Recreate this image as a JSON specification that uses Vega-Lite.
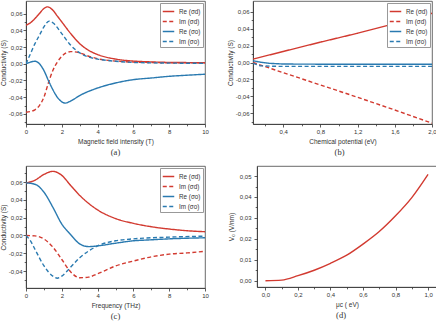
{
  "$schema": "https://vega.github.io/schema/vega-lite/v6.json",
  "padding": 0,
  "autosize": {"type": "pad"},
  "background": "white",
  "config": {
    "font": "Liberation Sans",
    "view": {"stroke": "#444", "strokeWidth": 0.8},
    "axis": {
      "grid": false,
      "domainColor": "#333",
      "domainWidth": 0.8,
      "tickColor": "#333",
      "tickWidth": 0.8,
      "labelFontSize": 6,
      "labelColor": "#333",
      "labelPadding": 1,
      "labelFlush": false,
      "labelOverlap": false,
      "titleFontSize": 6.5,
      "titleFontWeight": "normal",
      "titleColor": "#333",
      "titlePadding": 4
    },
    "axisY": {"titleX": -19.5},
    "legend": {
      "orient": "top-right",
      "offset": 2,
      "strokeColor": "#999",
      "fillColor": "white",
      "padding": 2,
      "labelFontSize": 6.3,
      "labelColor": "#333",
      "symbolType": "stroke",
      "symbolSize": 132,
      "symbolStrokeWidth": 1.3,
      "rowPadding": 0,
      "labelOffset": 4,
      "title": null
    },
    "title": {"font": "Liberation Serif", "fontSize": 8.5, "fontWeight": "normal", "color": "#333", "orient": "bottom", "offset": 3, "frame": "group"},
    "line": {"strokeWidth": 1.4, "interpolate": "monotone"}
  },
  "datasets": {
    "a": [
      {"x": 0, "y": 0.046, "s": "Re (σd)"}, {"x": 0.25, "y": 0.049, "s": "Re (σd)"}, {"x": 0.5, "y": 0.054, "s": "Re (σd)"}, {"x": 0.75, "y": 0.060, "s": "Re (σd)"}, {"x": 1, "y": 0.066, "s": "Re (σd)"}, {"x": 1.2, "y": 0.068, "s": "Re (σd)"}, {"x": 1.5, "y": 0.064, "s": "Re (σd)"}, {"x": 1.75, "y": 0.057, "s": "Re (σd)"}, {"x": 2, "y": 0.050, "s": "Re (σd)"}, {"x": 2.5, "y": 0.036, "s": "Re (σd)"}, {"x": 3, "y": 0.024, "s": "Re (σd)"}, {"x": 3.5, "y": 0.016, "s": "Re (σd)"}, {"x": 4, "y": 0.011, "s": "Re (σd)"}, {"x": 5, "y": 0.0056, "s": "Re (σd)"}, {"x": 6, "y": 0.0032, "s": "Re (σd)"}, {"x": 7, "y": 0.0022, "s": "Re (σd)"}, {"x": 8, "y": 0.0016, "s": "Re (σd)"}, {"x": 9, "y": 0.0014, "s": "Re (σd)"}, {"x": 10, "y": 0.0012, "s": "Re (σd)"},
      {"x": 0, "y": -0.058, "s": "Im (σd)"}, {"x": 0.5, "y": -0.055, "s": "Im (σd)"}, {"x": 0.75, "y": -0.05, "s": "Im (σd)"}, {"x": 1, "y": -0.04, "s": "Im (σd)"}, {"x": 1.25, "y": -0.023, "s": "Im (σd)"}, {"x": 1.5, "y": -0.008, "s": "Im (σd)"}, {"x": 1.75, "y": 0.002, "s": "Im (σd)"}, {"x": 2, "y": 0.009, "s": "Im (σd)"}, {"x": 2.25, "y": 0.013, "s": "Im (σd)"}, {"x": 2.5, "y": 0.0145, "s": "Im (σd)"}, {"x": 3, "y": 0.013, "s": "Im (σd)"}, {"x": 3.5, "y": 0.009, "s": "Im (σd)"}, {"x": 4, "y": 0.006, "s": "Im (σd)"}, {"x": 5, "y": 0.0032, "s": "Im (σd)"}, {"x": 6, "y": 0.002, "s": "Im (σd)"}, {"x": 8, "y": 0.0012, "s": "Im (σd)"}, {"x": 10, "y": 0.001, "s": "Im (σd)"},
      {"x": 0, "y": 0.0, "s": "Re (σo)"}, {"x": 0.25, "y": 0.002, "s": "Re (σo)"}, {"x": 0.5, "y": 0.003, "s": "Re (σo)"}, {"x": 0.75, "y": 0.0, "s": "Re (σo)"}, {"x": 1, "y": -0.008, "s": "Re (σo)"}, {"x": 1.25, "y": -0.02, "s": "Re (σo)"}, {"x": 1.5, "y": -0.031, "s": "Re (σo)"}, {"x": 1.75, "y": -0.04, "s": "Re (σo)"}, {"x": 2, "y": -0.0455, "s": "Re (σo)"}, {"x": 2.2, "y": -0.047, "s": "Re (σo)"}, {"x": 2.5, "y": -0.0445, "s": "Re (σo)"}, {"x": 3, "y": -0.038, "s": "Re (σo)"}, {"x": 4, "y": -0.029, "s": "Re (σo)"}, {"x": 5, "y": -0.023, "s": "Re (σo)"}, {"x": 6, "y": -0.019, "s": "Re (σo)"}, {"x": 7, "y": -0.017, "s": "Re (σo)"}, {"x": 8, "y": -0.015, "s": "Re (σo)"}, {"x": 9, "y": -0.0137, "s": "Re (σo)"}, {"x": 10, "y": -0.0125, "s": "Re (σo)"},
      {"x": 0, "y": 0.0, "s": "Im (σo)"}, {"x": 0.25, "y": 0.012, "s": "Im (σo)"}, {"x": 0.5, "y": 0.024, "s": "Im (σo)"}, {"x": 0.75, "y": 0.034, "s": "Im (σo)"}, {"x": 1, "y": 0.044, "s": "Im (σo)"}, {"x": 1.3, "y": 0.051, "s": "Im (σo)"}, {"x": 1.5, "y": 0.049, "s": "Im (σo)"}, {"x": 2, "y": 0.036, "s": "Im (σo)"}, {"x": 2.5, "y": 0.022, "s": "Im (σo)"}, {"x": 3, "y": 0.013, "s": "Im (σo)"}, {"x": 3.5, "y": 0.008, "s": "Im (σo)"}, {"x": 4, "y": 0.0056, "s": "Im (σo)"}, {"x": 5, "y": 0.003, "s": "Im (σo)"}, {"x": 6, "y": 0.0016, "s": "Im (σo)"}, {"x": 8, "y": 0.0008, "s": "Im (σo)"}, {"x": 10, "y": 0.0005, "s": "Im (σo)"}
    ],
    "b": [
      {"x": 0.075, "y": 0.004, "s": "Re (σd)"}, {"x": 0.4, "y": 0.013, "s": "Re (σd)"}, {"x": 0.8, "y": 0.024, "s": "Re (σd)"}, {"x": 1.2, "y": 0.0345, "s": "Re (σd)"}, {"x": 1.6, "y": 0.046, "s": "Re (σd)"}, {"x": 2.0, "y": 0.058, "s": "Re (σd)"},
      {"x": 0.075, "y": 0.0, "s": "Im (σd)"}, {"x": 0.4, "y": -0.012, "s": "Im (σd)"}, {"x": 0.8, "y": -0.0265, "s": "Im (σd)"}, {"x": 1.2, "y": -0.041, "s": "Im (σd)"}, {"x": 1.6, "y": -0.056, "s": "Im (σd)"}, {"x": 2.0, "y": -0.0715, "s": "Im (σd)"},
      {"x": 0.075, "y": 0.002, "s": "Re (σo)"}, {"x": 0.15, "y": 0.0005, "s": "Re (σo)"}, {"x": 0.25, "y": -0.001, "s": "Re (σo)"}, {"x": 0.4, "y": -0.0018, "s": "Re (σo)"}, {"x": 0.8, "y": -0.002, "s": "Re (σo)"}, {"x": 1.2, "y": -0.002, "s": "Re (σo)"}, {"x": 1.6, "y": -0.002, "s": "Re (σo)"}, {"x": 2.0, "y": -0.002, "s": "Re (σo)"},
      {"x": 0.075, "y": -0.001, "s": "Im (σo)"}, {"x": 0.15, "y": -0.0038, "s": "Im (σo)"}, {"x": 0.3, "y": -0.0045, "s": "Im (σo)"}, {"x": 0.8, "y": -0.0046, "s": "Im (σo)"}, {"x": 1.2, "y": -0.0046, "s": "Im (σo)"}, {"x": 1.6, "y": -0.0046, "s": "Im (σo)"}, {"x": 2.0, "y": -0.0046, "s": "Im (σo)"}
    ],
    "c": [
      {"x": 0, "y": 0.059, "s": "Re (σd)"}, {"x": 0.5, "y": 0.062, "s": "Re (σd)"}, {"x": 1, "y": 0.0685, "s": "Re (σd)"}, {"x": 1.5, "y": 0.072, "s": "Re (σd)"}, {"x": 2, "y": 0.0675, "s": "Re (σd)"}, {"x": 2.5, "y": 0.056, "s": "Re (σd)"}, {"x": 3, "y": 0.045, "s": "Re (σd)"}, {"x": 3.5, "y": 0.036, "s": "Re (σd)"}, {"x": 4, "y": 0.0287, "s": "Re (σd)"}, {"x": 5, "y": 0.019, "s": "Re (σd)"}, {"x": 6, "y": 0.0136, "s": "Re (σd)"}, {"x": 7, "y": 0.0098, "s": "Re (σd)"}, {"x": 8, "y": 0.0072, "s": "Re (σd)"}, {"x": 9, "y": 0.0053, "s": "Re (σd)"}, {"x": 10, "y": 0.0042, "s": "Re (σd)"},
      {"x": 0, "y": 0.0, "s": "Im (σd)"}, {"x": 0.5, "y": -0.0005, "s": "Im (σd)"}, {"x": 1, "y": -0.004, "s": "Im (σd)"}, {"x": 1.5, "y": -0.013, "s": "Im (σd)"}, {"x": 2, "y": -0.027, "s": "Im (σd)"}, {"x": 2.5, "y": -0.041, "s": "Im (σd)"}, {"x": 3, "y": -0.0475, "s": "Im (σd)"}, {"x": 3.5, "y": -0.0468, "s": "Im (σd)"}, {"x": 4, "y": -0.043, "s": "Im (σd)"}, {"x": 5, "y": -0.0343, "s": "Im (σd)"}, {"x": 6, "y": -0.0287, "s": "Im (σd)"}, {"x": 7, "y": -0.024, "s": "Im (σd)"}, {"x": 8, "y": -0.021, "s": "Im (σd)"}, {"x": 9, "y": -0.0196, "s": "Im (σd)"}, {"x": 10, "y": -0.0177, "s": "Im (σd)"},
      {"x": 0, "y": 0.059, "s": "Re (σo)"}, {"x": 0.5, "y": 0.0575, "s": "Re (σo)"}, {"x": 1, "y": 0.0487, "s": "Re (σo)"}, {"x": 1.5, "y": 0.0317, "s": "Re (σo)"}, {"x": 2, "y": 0.0128, "s": "Re (σo)"}, {"x": 2.5, "y": 0.0008, "s": "Re (σo)"}, {"x": 3, "y": -0.0095, "s": "Re (σo)"}, {"x": 3.5, "y": -0.0125, "s": "Re (σo)"}, {"x": 4, "y": -0.0117, "s": "Re (σo)"}, {"x": 5, "y": -0.0087, "s": "Re (σo)"}, {"x": 6, "y": -0.006, "s": "Re (σo)"}, {"x": 7, "y": -0.0049, "s": "Re (σo)"}, {"x": 8, "y": -0.0038, "s": "Re (σo)"}, {"x": 9, "y": -0.0031, "s": "Re (σo)"}, {"x": 10, "y": -0.0026, "s": "Re (σo)"},
      {"x": 0, "y": 0.0, "s": "Im (σo)"}, {"x": 0.25, "y": -0.006, "s": "Im (σo)"}, {"x": 0.5, "y": -0.0155, "s": "Im (σo)"}, {"x": 1, "y": -0.034, "s": "Im (σo)"}, {"x": 1.5, "y": -0.0457, "s": "Im (σo)"}, {"x": 1.75, "y": -0.048, "s": "Im (σo)"}, {"x": 2, "y": -0.0457, "s": "Im (σo)"}, {"x": 2.5, "y": -0.0355, "s": "Im (σo)"}, {"x": 3, "y": -0.025, "s": "Im (σo)"}, {"x": 3.5, "y": -0.0174, "s": "Im (σo)"}, {"x": 4, "y": -0.0117, "s": "Im (σo)"}, {"x": 5, "y": -0.006, "s": "Im (σo)"}, {"x": 6, "y": -0.0038, "s": "Im (σo)"}, {"x": 8, "y": -0.0019, "s": "Im (σo)"}, {"x": 10, "y": -0.0008, "s": "Im (σo)"}
    ],
    "d": [
      {"x": 0.0, "y": 0.0}, {"x": 0.1, "y": 0.0003}, {"x": 0.2, "y": 0.0024}, {"x": 0.3, "y": 0.005}, {"x": 0.4, "y": 0.0083}, {"x": 0.5, "y": 0.0122}, {"x": 0.6, "y": 0.0175}, {"x": 0.7, "y": 0.0235}, {"x": 0.8, "y": 0.031}, {"x": 0.9, "y": 0.0397}, {"x": 1.0, "y": 0.0508}
    ]
  },
  "vconcat": [
    {
      "hconcat": [
        {
          "width": 179, "height": 123,
          "title": {"text": "(a)"},
          "data": {"name": "a"},
          "mark": {"type": "line", "clip": true},
          "encoding": {
            "x": {"field": "x", "type": "quantitative", "scale": {"domain": [0, 10], "nice": false}, "axis": {"values": [0, 1, 2, 3, 4, 5, 6, 7, 8, 9, 10], "labelExpr": "datum.value % 2 == 0 ? '' + datum.value : ''", "tickSize": {"condition": {"test": "datum.value % 2 == 0", "value": 3}, "value": 1.8}, "title": "Magnetic field intensity (T)"}},
            "y": {"field": "y", "type": "quantitative", "scale": {"domain": [-0.072, 0.075], "nice": false, "zero": false}, "axis": {"values": [-0.07, -0.06, -0.05, -0.04, -0.03, -0.02, -0.01, 0, 0.01, 0.02, 0.03, 0.04, 0.05, 0.06], "labelExpr": "abs(datum.value * 50 - round(datum.value * 50)) < 0.01 ? replace(replace(format(datum.value, '.2f'), '.', ','), '−', '-') : ''", "tickSize": {"condition": {"test": "abs(datum.value * 50 - round(datum.value * 50)) < 0.01", "value": 3}, "value": 1.8}, "title": "Conductivity (S)"}},
            "color": {"field": "s", "type": "nominal", "scale": {"domain": ["Re (σd)", "Im (σd)", "Re (σo)", "Im (σo)"], "range": ["#d23a30", "#d23a30", "#2a7ab0", "#2a7ab0"]}, "legend": {"orient": "top-right"}},
            "strokeDash": {"field": "s", "type": "nominal", "scale": {"domain": ["Re (σd)", "Im (σd)", "Re (σo)", "Im (σo)"], "range": [[1, 0], [4, 2.5], [1, 0], [4, 2.5]]}, "legend": {"orient": "top-right"}}
          }
        },
        {
          "width": 179, "height": 123,
          "title": {"text": "(b)", "dx": -3},
          "data": {"name": "b"},
          "mark": {"type": "line", "clip": true, "interpolate": "linear"},
          "encoding": {
            "x": {"field": "x", "type": "quantitative", "scale": {"domain": [0.075, 2.0], "nice": false, "zero": false}, "axis": {"values": [0.2, 0.4, 0.6, 0.8, 1.0, 1.2, 1.4, 1.6, 1.8, 2.0], "labelExpr": "abs(datum.value / 0.4 - round(datum.value / 0.4)) < 0.01 ? replace(format(datum.value, '.1f'), '.', ',') : ''", "tickSize": {"condition": {"test": "abs(datum.value / 0.4 - round(datum.value / 0.4)) < 0.01", "value": 3}, "value": 1.8}, "title": "Chemical potential (eV)"}},
            "y": {"field": "y", "type": "quantitative", "scale": {"domain": [-0.0725, 0.0725], "nice": false, "zero": false}, "axis": {"values": [-0.07, -0.06, -0.05, -0.04, -0.03, -0.02, -0.01, 0, 0.01, 0.02, 0.03, 0.04, 0.05, 0.06], "labelExpr": "abs(datum.value * 50 - round(datum.value * 50)) < 0.01 ? replace(replace(format(datum.value, '.2f'), '.', ','), '−', '-') : ''", "tickSize": {"condition": {"test": "abs(datum.value * 50 - round(datum.value * 50)) < 0.01", "value": 3}, "value": 1.8}, "title": "Conductivity (S)"}},
            "color": {"field": "s", "type": "nominal", "scale": {"domain": ["Re (σd)", "Im (σd)", "Re (σo)", "Im (σo)"], "range": ["#d23a30", "#d23a30", "#2a7ab0", "#2a7ab0"]}, "legend": {"orient": "top-right"}},
            "strokeDash": {"field": "s", "type": "nominal", "scale": {"domain": ["Re (σd)", "Im (σd)", "Re (σo)", "Im (σo)"], "range": [[1, 0], [4, 2.5], [1, 0], [4, 2.5]]}, "legend": {"orient": "top-right"}}
          }
        }
      ],
      "spacing": 18,
      "resolve": {"scale": {"color": "independent", "strokeDash": "independent"}, "legend": {"color": "independent", "strokeDash": "independent"}}
    },
    {
      "hconcat": [
        {
          "width": 179, "height": 122,
          "title": {"text": "(c)"},
          "data": {"name": "c"},
          "mark": {"type": "line", "clip": true},
          "encoding": {
            "x": {"field": "x", "type": "quantitative", "scale": {"domain": [0, 10], "nice": false}, "axis": {"values": [0, 1, 2, 3, 4, 5, 6, 7, 8, 9, 10], "labelExpr": "datum.value % 2 == 0 ? '' + datum.value : ''", "tickSize": {"condition": {"test": "datum.value % 2 == 0", "value": 3}, "value": 1.8}, "title": "Frequency (THz)"}},
            "y": {"field": "y", "type": "quantitative", "scale": {"domain": [-0.059, 0.078], "nice": false, "zero": false}, "axis": {"values": [-0.05, -0.04, -0.03, -0.02, -0.01, 0, 0.01, 0.02, 0.03, 0.04, 0.05, 0.06, 0.07], "labelExpr": "abs(datum.value * 50 - round(datum.value * 50)) < 0.01 ? replace(replace(format(datum.value, '.2f'), '.', ','), '−', '-') : ''", "tickSize": {"condition": {"test": "abs(datum.value * 50 - round(datum.value * 50)) < 0.01", "value": 3}, "value": 1.8}, "title": "Conductivity (S)"}},
            "color": {"field": "s", "type": "nominal", "scale": {"domain": ["Re (σd)", "Im (σd)", "Re (σo)", "Im (σo)"], "range": ["#d23a30", "#d23a30", "#2a7ab0", "#2a7ab0"]}, "legend": {"orient": "top-right"}},
            "strokeDash": {"field": "s", "type": "nominal", "scale": {"domain": ["Re (σd)", "Im (σd)", "Re (σo)", "Im (σo)"], "range": [[1, 0], [4, 2.5], [1, 0], [4, 2.5]]}, "legend": {"orient": "top-right"}}
          }
        },
        {
          "width": 180, "height": 121,
          "title": {"text": "(d)", "dx": -6},
          "data": {"name": "d"},
          "mark": {"type": "line", "clip": true, "color": "#d23a30"},
          "encoding": {
            "x": {"field": "x", "type": "quantitative", "scale": {"domain": [-0.052, 1.055], "nice": false, "zero": false}, "axis": {"values": [0, 0.1, 0.2, 0.3, 0.4, 0.5, 0.6, 0.7, 0.8, 0.9, 1.0], "labelExpr": "abs(datum.value * 5 - round(datum.value * 5)) < 0.01 ? replace(format(datum.value, '.1f'), '.', ',') : ''", "tickSize": {"condition": {"test": "abs(datum.value * 5 - round(datum.value * 5)) < 0.01", "value": 3}, "value": 1.8}, "title": "μc  ( eV)"}},
            "y": {"field": "y", "type": "quantitative", "scale": {"domain": [-0.003, 0.0548], "nice": false, "zero": false}, "axis": {"values": [0, 0.005, 0.01, 0.015, 0.02, 0.025, 0.03, 0.035, 0.04, 0.045, 0.05], "labelExpr": "abs(datum.value * 100 - round(datum.value * 100)) < 0.01 ? replace(format(datum.value, '.2f'), '.', ',') : ''", "tickSize": {"condition": {"test": "abs(datum.value * 100 - round(datum.value * 100)) < 0.01", "value": 3}, "value": 1.8}, "labelPadding": 3, "titleX": -23, "title": "V₀ (V/nm)"}}
          }
        }
      ],
      "spacing": 18,
      "resolve": {"scale": {"color": "independent", "strokeDash": "independent"}, "legend": {"color": "independent", "strokeDash": "independent"}}
    }
  ],
  "spacing": 8,
  "resolve": {"scale": {"color": "independent", "strokeDash": "independent"}, "legend": {"color": "independent", "strokeDash": "independent"}}
}
